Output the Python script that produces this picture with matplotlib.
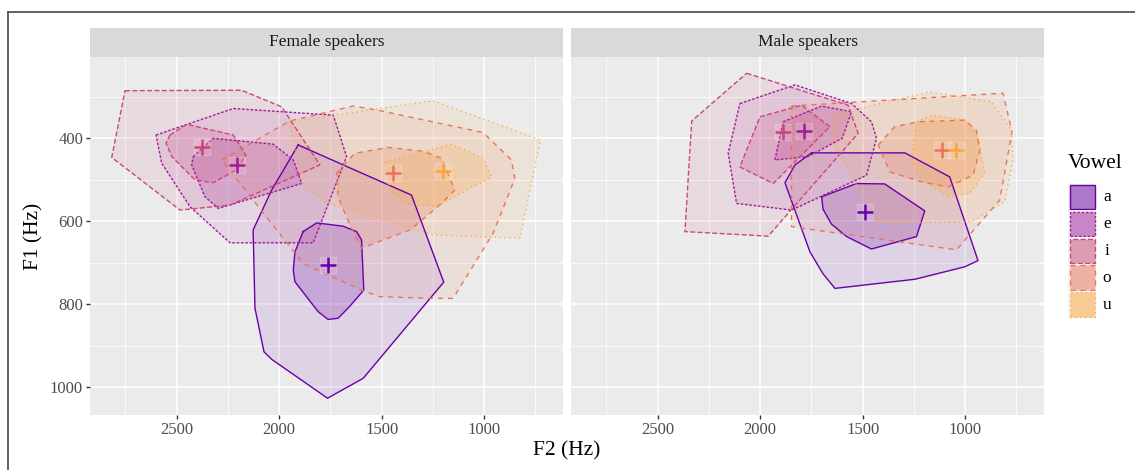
import numpy as np
import matplotlib
matplotlib.use("Agg")
import matplotlib.pyplot as plt
from matplotlib.patches import Polygon, Rectangle
from matplotlib.lines import Line2D

plt.rcParams['font.family'] = ['Liberation Serif', 'DejaVu Serif']
plt.rcParams['lines.scale_dashes'] = False

# ---------------- data (F2, F1) in Hz ----------------
vowels = ['a', 'e', 'i', 'o', 'u']
panels = ['Female speakers', 'Male speakers']
xticks = [2500, 2000, 1500, 1000]
yticks = [400, 600, 800, 1000]

# Female speakers
fem_a_outer = [(1907, 416), (1354, 537), (1197, 747), (1590, 979), (1764, 1027), (2037, 933),
               (2074, 915), (2118, 810), (2127, 621), (2037, 525)]
fem_a_inner = [(1883, 625), (1817, 604), (1688, 612), (1622, 625), (1598, 645), (1587, 766),
               (1655, 805), (1712, 834), (1761, 837), (1810, 818), (1923, 746), (1931, 718), (1923, 674)]
fem_e_outer = [(2601, 392), (2224, 328), (1736, 344), (1671, 444), (1834, 652), (2240, 652),
               (2435, 565), (2573, 460)]
fem_e_inner = [(2419, 444), (2322, 400), (2029, 414), (1931, 452), (1890, 509), (2297, 569),
               (2362, 541), (2427, 464)]
fem_i_outer = [(2752, 285), (2183, 284), (1988, 324), (1801, 464), (2240, 561), (2484, 573), (2817, 446)]
fem_i_inner = [(2533, 392), (2451, 366), (2224, 392), (2162, 440), (2207, 476), (2322, 507),
               (2411, 500), (2524, 444), (2552, 412)]
fem_o_outer = [(2281, 452), (1948, 358), (1639, 322), (1509, 333), (1005, 386), (867, 452), (850, 497),
               (956, 629), (1151, 786), (1265, 786), (1509, 782), (1590, 768), (1883, 702), (1948, 661)]
fem_o_inner = [(1720, 484), (1631, 436), (1468, 422), (1298, 431), (1208, 448), (1143, 525), (1216, 561),
               (1362, 621), (1598, 665), (1655, 609), (1712, 541)]
fem_u_outer = [(1951, 360), (1249, 309), (725, 404), (826, 641), (1249, 633), (1785, 553), (1883, 509)]
fem_u_inner = [(1484, 458), (1159, 414), (1005, 448), (964, 493), (1232, 565), (1379, 557), (1460, 525)]
fem_mean_f2 = [1764, 2207, 2378, 1444, 1200]
fem_mean_f1 = [706, 464, 420, 484, 478]

# Male speakers
mal_a_outer = [(1749, 435), (1294, 435), (1075, 493), (937, 695), (1002, 710), (1245, 740), (1635, 762),
               (1693, 727), (1757, 674), (1879, 507), (1830, 464)]
mal_a_inner = [(1700, 541), (1530, 509), (1392, 510), (1197, 575), (1237, 637), (1457, 667), (1578, 637),
               (1652, 607), (1693, 571)]
mal_e_outer = [(2099, 316), (1830, 271), (1554, 316), (1457, 360), (1432, 400), (1481, 489), (1847, 573),
               (2115, 557), (2156, 436)]
mal_e_inner = [(1888, 360), (1700, 322), (1554, 336), (1600, 400), (1766, 444), (1928, 452)]
mal_i_outer = [(2066, 243), (1571, 320), (1522, 388), (1961, 636), (2367, 625), (2334, 358)]
mal_i_inner = [(2001, 348), (1798, 320), (1660, 372), (1936, 509), (2099, 469)]
mal_o_outer = [(1847, 322), (815, 291), (771, 384), (831, 549), (1042, 669), (1847, 613)]
mal_o_inner = [(1424, 416), (1343, 372), (1229, 360), (1002, 356), (945, 380), (928, 428), (961, 489),
               (1083, 517), (1213, 505), (1367, 481)]
mal_u_outer = [(1652, 344), (1172, 288), (871, 312), (774, 380), (766, 452), (807, 553), (969, 601),
               (1424, 605), (1538, 505), (1644, 412)]
mal_u_inner = [(1261, 452), (1237, 360), (1164, 344), (993, 356), (937, 396), (904, 484), (977, 533),
               (1083, 541), (1213, 501)]
mal_mean_f2 = [1489, 1785, 1888, 1115, 1042]
mal_mean_f1 = [577, 382, 384, 428, 427]

# ---------------- assemble ----------------
hulls = {
    'Female speakers': {'a': (fem_a_outer, fem_a_inner), 'e': (fem_e_outer, fem_e_inner),
                        'i': (fem_i_outer, fem_i_inner), 'o': (fem_o_outer, fem_o_inner),
                        'u': (fem_u_outer, fem_u_inner)},
    'Male speakers': {'a': (mal_a_outer, mal_a_inner), 'e': (mal_e_outer, mal_e_inner),
                      'i': (mal_i_outer, mal_i_inner), 'o': (mal_o_outer, mal_o_inner),
                      'u': (mal_u_outer, mal_u_inner)},
}
means = {'Female speakers': (fem_mean_f2, fem_mean_f1), 'Male speakers': (mal_mean_f2, mal_mean_f1)}

colors = dict(zip(vowels, plt.cm.plasma(np.linspace(0.2, 0.8, 5))))
styles = {'a': '-', 'e': (0, (1.9, 1.2)), 'i': (0, (3.6, 1.7)), 'o': (0, (3.6, 3.6)), 'u': (0, (0.9, 2.6))}

W, H = 1135, 470
fig = plt.figure(figsize=(W / 100, H / 100), dpi=100)

def fx(px):
    return px / W

def fy(py):
    return 1 - py / H

ax_x = [90, 571]
ax_w = 473
top, bot = 56.7, 415
strip_top = 28.3

for k, panel in enumerate(panels):
    x0 = ax_x[k]
    ax = fig.add_axes([fx(x0), fy(bot), ax_w / W, (bot - top) / H])
    ax.set_facecolor('#ebebeb')
    ax.set_xlim(2923, 615)
    ax.set_ylim(1067.5, 203)
    ax.set_xticks(xticks)
    ax.set_yticks(yticks)
    ax.set_xticks([2750, 2250, 1750, 1250, 750], minor=True)
    ax.set_yticks([300, 500, 700, 900], minor=True)
    ax.grid(which='major', color='white', lw=1.1, zorder=0)
    ax.grid(which='minor', color='white', lw=0.55, zorder=0)
    ax.set_axisbelow(True)
    for s in ax.spines.values():
        s.set_visible(False)
    ax.tick_params(which='major', length=3, width=1.0, color='#333333', labelsize=12,
                   labelcolor='#4d4d4d', pad=2)
    ax.tick_params(which='minor', length=0)
    if k == 1:
        ax.tick_params(axis='y', which='both', left=False, labelleft=False)

    for v in vowels:
        outer, inner = hulls[panel][v]
        c = colors[v]
        for pts, alpha in ((outer, 0.10), (inner, 0.20)):
            poly = Polygon(pts, closed=True, facecolor=(*c[:3], alpha), edgecolor='none', zorder=2)
            ax.add_patch(poly)
            xs = [p[0] for p in pts] + [pts[0][0]]
            ys = [p[1] for p in pts] + [pts[0][1]]
            ax.plot(xs, ys, color=c, lw=1.0, ls=styles[v], zorder=3)
    mf2, mf1 = means[panel]
    for j, v in enumerate(vowels):
        ax.plot(mf2[j], mf1[j], marker='s', ms=11, mfc=(1, 1, 1, 0.12), mec=(1, 1, 1, 0.25),
                mew=0.8, ls='none', zorder=4)
        ax.plot(mf2[j], mf1[j], marker='+', ms=11, mew=1.8, color=colors[v], ls='none', zorder=5)

    # strip
    sax = fig.add_axes([fx(x0), fy(top), ax_w / W, (top - strip_top) / H])
    sax.set_facecolor('#d9d9d9')
    sax.set_xticks([])
    sax.set_yticks([])
    for s in sax.spines.values():
        s.set_visible(False)
    sax.text(0.5, 0.5, panel, ha='center', va='center', fontsize=12.5, color='#1a1a1a',
             transform=sax.transAxes)

# axis titles
fig.text(fx(567), fy(451), 'F2 (Hz)', ha='center', va='center', fontsize=15.5, color='black')
fig.text(fx(34), fy(236), 'F1 (Hz)', ha='center', va='center', fontsize=15.5, rotation=90, color='black')

# legend (drawn as keys)
fig.text(fx(1068), fy(163), 'Vowel', ha='left', va='center', fontsize=15.5, color='black')
key_x, key_w, key_h, key_top = 1068, 28, 26.9, 183.5
for j, v in enumerate(vowels):
    yt = key_top + j * key_h
    fig.add_artist(Rectangle((fx(key_x), fy(yt + key_h)), key_w / W, key_h / H,
                             transform=fig.transFigure, facecolor='#f2f2f2', edgecolor='none'))
    fig.add_artist(Rectangle((fx(key_x + 1.5), fy(yt + key_h - 1.2)), (key_w - 3) / W, (key_h - 2.4) / H,
                             transform=fig.transFigure, facecolor=(*colors[v][:3], 0.5),
                             edgecolor=colors[v], linestyle=styles[v], lw=1.0))
    fig.text(fx(1107), fy(yt + key_h / 2), v, ha='center', va='center', fontsize=12.5, color='black')

# outer frame
fig.add_artist(Line2D([fx(8), fx(W + 5)], [fy(12), fy(12)], color='#555555', lw=1.3))
fig.add_artist(Line2D([fx(8), fx(8)], [fy(12), fy(H + 5)], color='#555555', lw=1.3))

fig.savefig('out.png', dpi=100)
